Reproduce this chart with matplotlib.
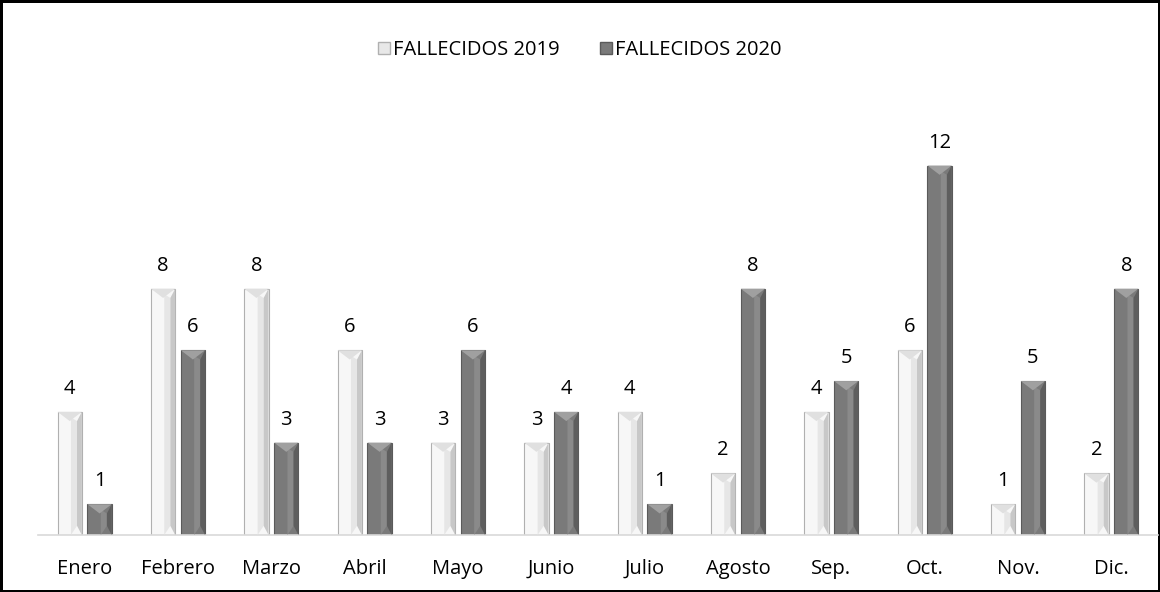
import matplotlib.pyplot as plt
from matplotlib.patches import Polygon, Patch
import numpy as np

plt.rcParams['font.family'] = ['Open Sans', 'DejaVu Sans']

meses = ['Enero', 'Febrero', 'Marzo', 'Abril', 'Mayo', 'Junio', 'Julio',
         'Agosto', 'Sep.', 'Oct.', 'Nov.', 'Dic.']
fallecidos_2019 = [4, 8, 8, 6, 3, 3, 4, 2, 4, 6, 1, 2]
fallecidos_2020 = [1, 6, 3, 3, 6, 4, 1, 8, 5, 12, 5, 8]

fig = plt.figure(figsize=(11.6, 5.92), dpi=100)
fig.patch.set_edgecolor('black')
fig.patch.set_linewidth(2.5)
ax = fig.add_axes([38 / 1160, 57 / 592, 1120 / 1160, 431 / 592])

x = np.arange(len(meses))
w = 0.26
gap = 0.03
b1 = ax.bar(x - w / 2 - gap, fallecidos_2019, w, color='#f7f7f7',
            edgecolor='#b0b0b0', linewidth=0.8, zorder=2)
b2 = ax.bar(x + w / 2 + gap, fallecidos_2020, w, color='#7a7a7a',
            edgecolor='#5a5a5a', linewidth=0.8, zorder=2)


def bevel(bars, side, top, mid):
    # fake the 3D bevel of the original bars
    for r in bars:
        x0, y0 = r.get_x(), r.get_y()
        bw, bh = r.get_width(), r.get_height()
        t = min(0.3, bh / 2)
        ax.add_patch(Polygon([[x0 + bw * 0.55, y0], [x0 + bw * 0.8, y0 + t],
                              [x0 + bw * 0.8, y0 + bh - t], [x0 + bw * 0.55, y0 + bh - t * 0.6],
                              ], closed=True, color=mid, lw=0, zorder=3))
        ax.add_patch(Polygon([[x0 + bw * 0.8, y0 + t], [x0 + bw, y0],
                              [x0 + bw, y0 + bh], [x0 + bw * 0.8, y0 + bh - t]],
                             closed=True, color=side, lw=0, zorder=3))
        ax.add_patch(Polygon([[x0, y0 + bh], [x0 + bw, y0 + bh],
                              [x0 + bw / 2, y0 + bh - t]],
                             closed=True, color=top, lw=0, zorder=3))


bevel(b1, '#c8c8c8', '#e0e0e0', '#e6e6e6')
bevel(b2, '#5e5e5e', '#a0a0a0', '#8a8a8a')

for rects, vals in ((b1, fallecidos_2019), (b2, fallecidos_2020)):
    for r, v in zip(rects, vals):
        ax.text(r.get_x() + r.get_width() / 2, v + 0.42, str(v),
                ha='center', va='bottom', fontsize=14.5, color='black')

ax.set_xlim(-0.5, len(meses) - 0.5)
ax.set_ylim(0, 14)
ax.set_yticks([])
ax.set_xticks(x)
ax.set_xticklabels(meses, fontsize=14.5)
ax.tick_params(axis='x', length=0, pad=17)
for s in ['top', 'right', 'left']:
    ax.spines[s].set_visible(False)
ax.spines['bottom'].set_color('#d9d9d9')
ax.spines['bottom'].set_linewidth(1.2)

handles = [Patch(facecolor='#e8e8e8', edgecolor='#b0b0b0', label='FALLECIDOS 2019'),
           Patch(facecolor='#7a7a7a', edgecolor='#5a5a5a', label='FALLECIDOS 2020')]
fig.legend(handles=handles, loc='center', bbox_to_anchor=(0.5, 1 - 50 / 592),
           ncol=2, frameon=False, fontsize=14.5, handlelength=0.6, handleheight=0.6,
           handletextpad=0.15, columnspacing=2.0)

fig.savefig('out.png', dpi=100, edgecolor=fig.get_edgecolor())
